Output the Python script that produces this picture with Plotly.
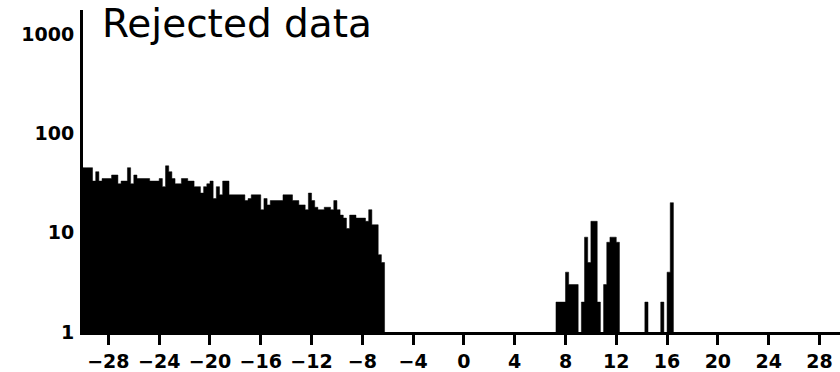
import numpy as np
import plotly.graph_objects as go

# Histogram of rejected samples, 0.25-wide bins, counts on a log axis
BIN_WIDTH = 0.25

# Continuous block of bins starting at -30
LEFT_START = -30.0
LEFT_COUNTS = [
    45, 45, 45, 33, 41, 33, 35, 35, 35, 38, 38, 31, 33, 33, 45, 31, 38, 35, 35, 35,
    35, 33, 33, 33, 35, 29, 47, 41, 35, 31, 31, 35, 35, 33, 33, 29, 29, 25, 29, 31,
    33, 22, 29, 24, 33, 33, 24, 24, 24, 24, 24, 21, 22, 24, 24, 24, 17, 22, 19, 21,
    21, 21, 21, 24, 24, 24, 21, 21, 19, 19, 17, 25, 21, 18, 17, 17, 18, 18, 17, 21,
    17, 15, 14, 11, 15, 15, 14, 14, 14, 13, 17, 12, 12, 6, 5,
]

# Scattered bins on the positive side (left edge of each bin)
RIGHT_BIN_STARTS = [7.25, 7.5, 7.75, 8.0, 8.25, 8.5, 8.75, 9.25, 9.5, 9.75, 10.0,
                    10.25, 10.5, 11.0, 11.25, 11.5, 11.75, 12.0, 14.25, 15.5, 16.0, 16.25]
RIGHT_COUNTS = [2, 2, 2, 4, 3, 3, 3, 2, 9, 5, 13, 13, 2, 3, 8, 9, 9, 8, 2, 2, 4, 20]

X_TICKS = [-28, -24, -20, -16, -12, -8, -4, 0, 4, 8, 12, 16, 20, 24, 28]
Y_TICKS = [1, 10, 100, 1000]
Y_TICK_TEXT = ["1", "10", "100", "1000"]
TITLE = "Rejected data"
AXIS_FLOOR = 1  # bottom of the log count axis

left_starts = LEFT_START + BIN_WIDTH * np.arange(len(LEFT_COUNTS))
starts = np.concatenate([left_starts, np.array(RIGHT_BIN_STARTS)])
counts = np.concatenate([np.array(LEFT_COUNTS), np.array(RIGHT_COUNTS)])


def step_outline(bin_starts, bin_counts, width, floor):
    """Closed step outlines, one per run of adjacent bins, separated by None."""
    xs, ys = [], []
    i = 0
    n = len(bin_starts)
    while i < n:
        j = i
        while j + 1 < n and abs(bin_starts[j + 1] - (bin_starts[j] + width)) < 1e-9:
            j += 1
        xs.append(bin_starts[i]); ys.append(floor)
        for k in range(i, j + 1):
            xs += [bin_starts[k], bin_starts[k] + width]
            ys += [bin_counts[k], bin_counts[k]]
        xs.append(bin_starts[j] + width); ys.append(floor)
        xs.append(None); ys.append(None)
        i = j + 1
    return xs, ys


ox, oy = step_outline(list(starts), list(counts), BIN_WIDTH, AXIS_FLOOR)

fig = go.Figure(
    go.Scatter(
        x=ox,
        y=oy,
        mode="lines",
        fill="toself",
        fillcolor="black",
        line=dict(color="black", width=0.5),
        hoverinfo="skip",
    )
)

tick_font = dict(family="DejaVu Sans", size=19, color="black", weight="bold")

fig.update_layout(
    width=840,
    height=372,
    margin=dict(l=83, r=0, t=10, b=36),
    paper_bgcolor="white",
    plot_bgcolor="white",
    showlegend=False,
    xaxis=dict(
        range=[-30, 29.62],
        tickmode="array",
        tickvals=X_TICKS,
        ticks="outside",
        ticklen=10,
        tickwidth=3,
        tickcolor="black",
        showline=True,
        linecolor="black",
        linewidth=3,
        showgrid=False,
        zeroline=False,
        tickfont=tick_font,
    ),
    yaxis=dict(
        type="log",
        range=[0, 3.24],
        tickmode="array",
        tickvals=Y_TICKS,
        ticktext=Y_TICK_TEXT,
        ticks="",
        showline=True,
        linecolor="black",
        linewidth=3,
        showgrid=False,
        zeroline=False,
        tickfont=tick_font,
        ticklabelstandoff=2,
    ),
    annotations=[
        dict(
            text=TITLE,
            xref="paper",
            yref="paper",
            x=0.022,
            y=1.035,
            xanchor="left",
            yanchor="top",
            showarrow=False,
            font=dict(family="DejaVu Sans", size=39, color="black"),
        )
    ],
)

fig.write_html("out.html")
